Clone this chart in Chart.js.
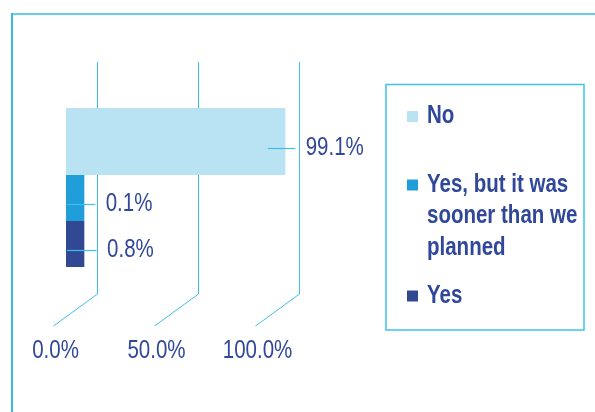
<!DOCTYPE html>
<html>
<head>
<meta charset="utf-8">
<script src="https://cdn.jsdelivr.net/npm/chart.js@4/dist/chart.umd.min.js"></script>
<style>
  html, body { margin: 0; padding: 0; background: #ffffff; }
  #wrap { width: 595px; height: 412px; position: relative; }
</style>
</head>
<body>
<div id="wrap"><canvas id="chart"></canvas></div>
<script>
// Survey answers and their shares (%)
const categories = ['No', 'Yes, but it was sooner than we planned', 'Yes'];
const shares = [99.1, 0.1, 0.8];
const tickValues = [0, 50, 100];
const tickLabels = ['0.0%', '50.0%', '100.0%'];

// Styling
const palette = ['#b9e3f2', '#1f9ed9', '#314893'];
const rowWeights = [67, 46, 46];          // relative thickness of each row band
const INK = '#30479a';
const LINE = '#3dbfea';
const FONT = '"Liberation Sans", Arial, sans-serif';
const SQUEEZE = 0.82;                      // condensed lettering

// Back-wall projection of the value axis (pseudo-3D floor and wall)
const WALL_SHIFT = 31;
const WALL_RATIO = 202 / 221;
const DEPTH_DX = -44, DEPTH_DY = 32;

function wallX(chart, v) {
  const a = chart.chartArea;
  const px = chart.scales.x.getPixelForValue(v);
  return a.left + WALL_SHIFT + (px - a.left) * WALL_RATIO;
}

function textWidth(ctx, text) {
  return ctx.measureText(text).width * SQUEEZE;
}

// Draw horizontally condensed text; align is 'left' or 'center'
function condensedText(ctx, text, x, y, align) {
  const w = textWidth(ctx, text);
  const left = align === 'center' ? x - w / 2 : x;
  ctx.save();
  ctx.translate(left, y);
  ctx.scale(SQUEEZE, 1);
  ctx.textAlign = 'left';
  ctx.fillText(text, 0, 0);
  ctx.restore();
}

const scales = {
  x: { type: 'linear', min: 0, max: 100, display: false }
};
categories.forEach((c, i) => {
  scales['y' + i] = {
    type: 'category',
    labels: [c],
    offset: true,
    position: 'left',
    stack: 'rows',
    stackWeight: rowWeights[i],
    weight: categories.length - i,
    ticks: { display: false },
    grid: { display: false, drawTicks: false },
    border: { display: false }
  };
});

const datasets = categories.map((c, i) => ({
  label: c,
  data: [shares[i]],
  yAxisID: 'y' + i,
  backgroundColor: palette[i],
  borderWidth: 0,
  minBarLength: 18,
  grouped: false,
  categoryPercentage: 1,
  barPercentage: 1
}));

const wallPlugin = {
  id: 'wall3d',
  beforeDraw(chart) {
    const { ctx } = chart;
    ctx.save();
    ctx.lineWidth = 2;
    ctx.strokeStyle = '#63cdf0';
    ctx.beginPath(); ctx.moveTo(11, 14); ctx.lineTo(595, 14); ctx.stroke();
    ctx.strokeStyle = '#35b8ea';
    ctx.beginPath(); ctx.moveTo(12, 13); ctx.lineTo(12, 412); ctx.stroke();
    ctx.restore();
  },
  // wall grid lines, floor ticks and axis labels, behind the bars
  beforeDatasetsDraw(chart) {
    const { ctx, chartArea: a } = chart;
    ctx.save();
    ctx.strokeStyle = LINE;
    ctx.lineWidth = 1;
    ctx.fillStyle = INK;
    ctx.font = '25px ' + FONT;
    ctx.textBaseline = 'middle';
    tickValues.forEach((v, i) => {
      const bx = Math.round(wallX(chart, v)) + 0.5;
      const top = a.top - 46, bottom = a.bottom + 27;
      ctx.beginPath();
      ctx.moveTo(bx, top);
      ctx.lineTo(bx, bottom);
      ctx.lineTo(bx + DEPTH_DX, bottom + DEPTH_DY);
      ctx.stroke();
      condensedText(ctx, tickLabels[i], bx + DEPTH_DX + 2, a.bottom + 84, 'center');
    });
    ctx.restore();
  },
  // value labels with leader lines
  afterDatasetsDraw(chart) {
    const { ctx } = chart;
    ctx.save();
    ctx.strokeStyle = LINE;
    ctx.lineWidth = 1.2;
    ctx.fillStyle = INK;
    ctx.font = '25px ' + FONT;
    ctx.textBaseline = 'middle';
    chart.data.datasets.forEach((ds, i) => {
      const bar = chart.getDatasetMeta(i).data[0];
      const v = ds.data[0];
      const y = Math.round(bar.y + 6) + 0.5;
      const wx = wallX(chart, v);
      ctx.beginPath();
      ctx.moveTo(bar.x - 17, y);
      ctx.lineTo(wx - 2, y);
      ctx.stroke();
      condensedText(ctx, v.toFixed(1) + '%', wx + 8.5, y, 'left');
    });
    ctx.restore();
  },
  // boxed legend
  afterDraw(chart) {
    const { ctx } = chart;
    const box = { left: 386, top: 84.5, right: 584, bottom: 330 };
    const firstBaselines = [38.5, 107, 218];
    const lineHeight = 31.5;
    ctx.save();
    ctx.strokeStyle = '#3ec2ee';
    ctx.lineWidth = 1.5;
    ctx.strokeRect(box.left, box.top, box.right - box.left, box.bottom - box.top);
    ctx.font = 'bold 25px ' + FONT;
    ctx.textBaseline = 'alphabetic';
    const textX = box.left + 41;
    const maxW = box.right - textX - 2;
    chart.data.datasets.forEach((ds, i) => {
      const words = ds.label.split(' ');
      const lines = [];
      let cur = '';
      words.forEach(w => {
        const t = cur ? cur + ' ' + w : w;
        if (cur && textWidth(ctx, t) > maxW) { lines.push(cur); cur = w; }
        else cur = t;
      });
      lines.push(cur);
      const base = box.top + firstBaselines[i];
      ctx.fillStyle = ds.backgroundColor;
      ctx.fillRect(box.left + 21, base - 12, 11, 11);
      ctx.fillStyle = INK;
      lines.forEach((ln, k) => condensedText(ctx, ln, textX, base + k * lineHeight, 'left'));
    });
    ctx.restore();
  }
};

new Chart(document.getElementById('chart'), {
  type: 'bar',
  data: { labels: categories, datasets },
  options: {
    indexAxis: 'y',
    responsive: true,
    maintainAspectRatio: false,
    animation: false,
    layout: { padding: { left: 66, right: 308, top: 108, bottom: 145 } },
    scales,
    plugins: {
      legend: { display: false },
      tooltip: { enabled: false }
    }
  },
  plugins: [wallPlugin]
});
</script>
</body>
</html>
